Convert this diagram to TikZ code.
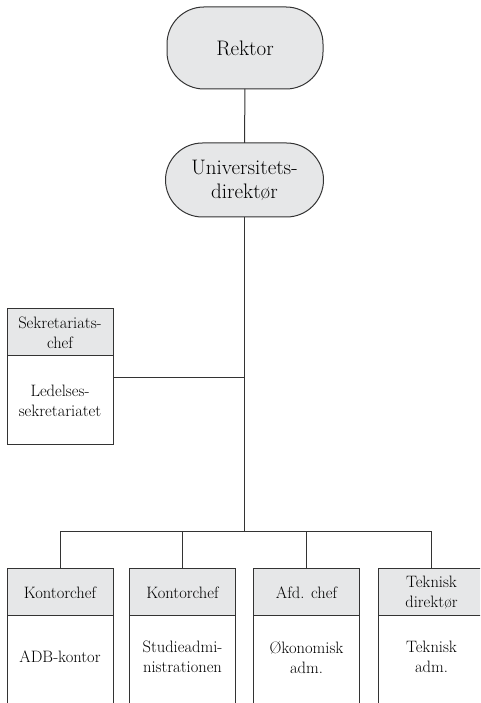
\documentclass[tikz,border=0pt]{standalone}
\usepackage{fontspec}
\definecolor{boxfill}{HTML}{E6E7E8}
\definecolor{linec}{HTML}{333333}
\begin{document}
\begin{tikzpicture}[x=1pt,y=1pt,line width=1pt,
  stadium/.style={draw=linec,fill=boxfill,rounded corners=37pt,inner sep=0pt,outer sep=0pt,
    align=center,font=\fontsize{21}{24}\selectfont},
  headbox/.style={draw=linec,fill=boxfill,minimum width=106pt,minimum height=47pt,inner sep=0pt,outer sep=0pt,
    align=center,font=\fontsize{16.5}{20}\selectfont},
  bodybox/.style={draw=linec,minimum width=106pt,inner sep=0pt,outer sep=0pt,
    align=center,font=\fontsize{16.5}{20}\selectfont},
  bodytext/.style={inner sep=0pt,align=center,font=\fontsize{16.5}{20}\selectfont},
  conn/.style={draw=linec,line width=1pt}]
\useasboundingbox (0,0) rectangle (480,703);
\clip (0,0) rectangle (480,703);
\node[stadium,minimum width=156pt,minimum height=82pt] (rektor) at (245,655) {Rektor};
\node[stadium,minimum width=158pt,minimum height=74pt] (univ) at (244.5,523) {Universitets-\\direktør};
% secretariat
\node[headbox] (sekh) at (60,370.5) {Sekretariats-\\chef};
\node[bodybox,minimum height=89pt,anchor=north] (sekb) at (sekh.south) {Ledelses-\\sekretariatet};
% bottom headers
\node[headbox] (h1) at (60,110.5) {Kontorchef};
\node[headbox] (h2) at (182.5,110.5) {Kontorchef};
\node[headbox] (h3) at (306.5,110.5) {Afd. chef};
\node[headbox] (h4) at (431.5,110.5) {Teknisk\\direktør};
\node[bodytext] (b1) at (60,46) {ADB-kontor};
\node[bodytext] (b2) at (182.5,46) {Studieadmi-\\nistrationen};
\node[bodytext] (b3) at (306.5,46) {Økonomisk\\adm.};
\node[bodytext] (b4) at (431.5,46) {Teknisk\\adm.};
\foreach \h in {h1,h2,h3,h4}{
  \draw[conn] (\h.south west) -- ++(0,-120);
  \draw[conn] (\h.south east) -- ++(0,-120);
}
% connectors
\coordinate (bar) at (univ.center |- 0,171);
\coordinate (br) at (univ.center |- 0,325);
\draw[conn] (rektor) -- (univ);
\draw[conn] (univ) -- (bar);
\draw[conn] (br) -- (sekb.east |- br);
\draw[conn] (h1.north |- bar) -- (h4.north |- bar);
\foreach \h in {h1,h2,h3,h4}{
  \draw[conn] (\h.north |- bar) -- (\h.north);
}
\end{tikzpicture}
\end{document}
